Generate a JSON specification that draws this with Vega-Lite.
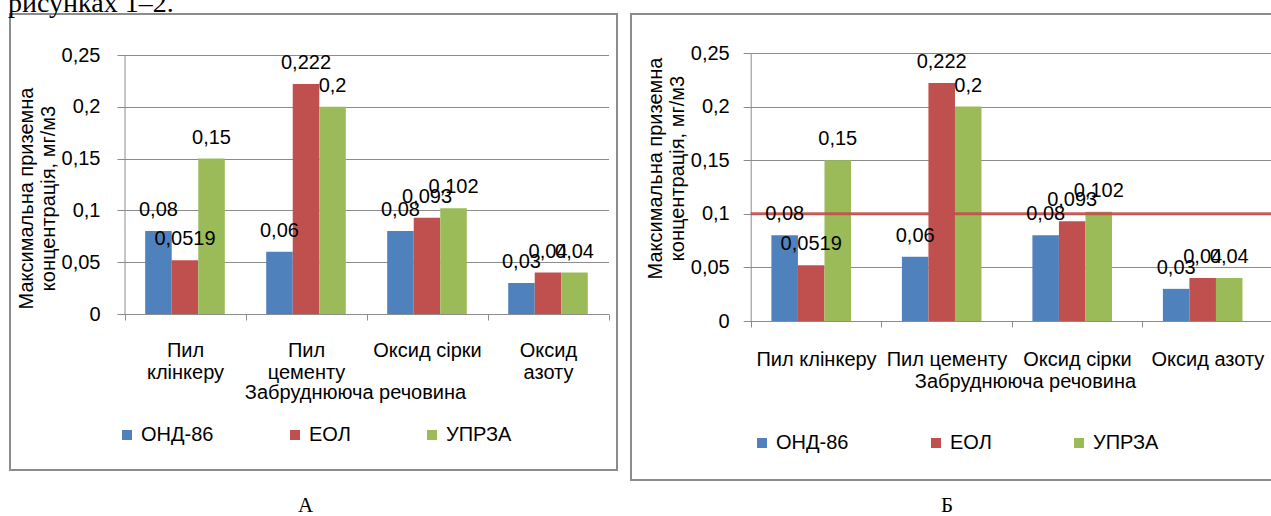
{
  "$schema": "https://vega.github.io/schema/vega-lite/v6.json",
  "background": "white",
  "padding": {"left": 8, "top": -10, "right": 0, "bottom": 0},
  "title": {
    "text": "рисунках 1–2.",
    "anchor": "start",
    "frame": "group",
    "font": "Liberation Serif",
    "fontSize": 28,
    "fontWeight": "normal",
    "color": "black",
    "baseline": "alphabetic",
    "offset": -27,
    "dx": -2
  },
  "config": {
    "font": "Liberation Sans",
    "locale": {"number": {"decimal": ",", "thousands": " ", "grouping": [3], "currency": ["", ""]}},
    "view": {"stroke": "#8c8c8c", "strokeWidth": 2},
    "axis": {
      "domainColor": "#8c8c8c",
      "tickColor": "#8c8c8c",
      "gridColor": "#8c8c8c",
      "labelFont": "Liberation Sans",
      "labelFontSize": 20,
      "labelColor": "black",
      "titleFont": "Liberation Sans",
      "titleFontSize": 20,
      "titleFontWeight": "normal",
      "titleColor": "black"
    },
    "legend": {"labelFont": "Liberation Sans", "labelFontSize": 20, "labelColor": "black"}
  },
  "resolve": {"scale": {"color": "independent"}, "legend": {"color": "independent"}},
  "datasets": {
    "conc": [
      {"substance": "Пил клінкеру", "method": "ОНД-86", "value": 0.08},
      {"substance": "Пил клінкеру", "method": "ЕОЛ", "value": 0.0519},
      {"substance": "Пил клінкеру", "method": "УПРЗА", "value": 0.15},
      {"substance": "Пил цементу", "method": "ОНД-86", "value": 0.06},
      {"substance": "Пил цементу", "method": "ЕОЛ", "value": 0.222},
      {"substance": "Пил цементу", "method": "УПРЗА", "value": 0.2},
      {"substance": "Оксид сірки", "method": "ОНД-86", "value": 0.08},
      {"substance": "Оксид сірки", "method": "ЕОЛ", "value": 0.093},
      {"substance": "Оксид сірки", "method": "УПРЗА", "value": 0.102},
      {"substance": "Оксид азоту", "method": "ОНД-86", "value": 0.03},
      {"substance": "Оксид азоту", "method": "ЕОЛ", "value": 0.04},
      {"substance": "Оксид азоту", "method": "УПРЗА", "value": 0.04}
    ],
    "limit": [{"level": 0.1}]
  },
  "spacing": 12,
  "hconcat": [
    {
      "width": 607,
      "height": 456,
      "title": {"text": "А", "orient": "bottom", "anchor": "start", "dx": 288, "font": "Liberation Serif", "fontSize": 21, "fontWeight": "normal", "color": "black", "baseline": "top", "offset": 25},
      "data": {"name": "conc"},
      "encoding": {
        "x": {
          "field": "substance", "type": "nominal", "sort": null,
          "scale": {"range": [114.5, 598.5], "paddingInner": 0, "paddingOuter": 0},
          "title": "Забруднююча речовина",
          "axis": {
            "offset": -156, "labelAngle": 0, "tickBand": "extent", "tickSize": 6,
            "labelPadding": 20, "labelLineHeight": 22, "labelLimit": 0,
            "labelExpr": "datum.value == 'Оксид сірки' ? datum.label : split(datum.label, ' ')",
            "titlePadding": 0, "titleX": 345, "titleAlign": "center"
          }
        },
        "xOffset": {"field": "method", "type": "nominal", "sort": ["ОНД-86", "ЕОЛ", "УПРЗА"], "scale": {"paddingInner": 0, "paddingOuter": 0.78}},
        "y": {
          "field": "value", "type": "quantitative",
          "scale": {"domain": [0, 0.25], "range": [300, 41], "nice": false},
          "title": ["Максимальна приземна", "концентрація, мг/м3"],
          "axis": {
            "offset": -114.5, "values": [0, 0.05, 0.1, 0.15, 0.2, 0.25], "format": "~g",
            "grid": true, "tickSize": 7.5, "labelPadding": 17,
            "titlePadding": 3, "titleLineHeight": 22, "titleY": 184
          }
        }
      },
      "layer": [
        {
          "mark": {"type": "bar"},
          "encoding": {
            "color": {
              "field": "method", "type": "nominal", "sort": ["ОНД-86", "ЕОЛ", "УПРЗА"],
              "scale": {"domain": ["ОНД-86", "ЕОЛ", "УПРЗА"], "range": ["#4f81bd", "#c0504d", "#9bbb59"]},
              "legend": {"orient": "none", "legendX": 107, "legendY": 411, "direction": "horizontal", "title": null, "symbolType": "square", "symbolSize": 100, "symbolStrokeWidth": 0, "symbolOpacity": 1, "columnPadding": 71, "labelOffset": 4}
            }
          }
        },
        {
          "mark": {"type": "text", "dy": -21, "baseline": "middle", "fontSize": 20, "color": "black"},
          "encoding": {"text": {"field": "value", "type": "quantitative", "format": ".4~f"}}
        }
      ]
    },
    {
      "width": 660,
      "height": 466,
      "title": {"text": "Б", "orient": "bottom", "anchor": "start", "dx": 310, "font": "Liberation Serif", "fontSize": 21, "fontWeight": "normal", "color": "black", "baseline": "top", "offset": 15},
      "layer": [
        {
          "data": {"name": "conc"},
          "mark": {"type": "bar"},
          "encoding": {
            "x": {
              "field": "substance", "type": "nominal", "sort": null,
              "scale": {"range": [119.7, 641.7], "paddingInner": 0, "paddingOuter": 0},
              "title": "Забруднююча речовина",
              "axis": {
                "offset": -159, "labelAngle": 0, "tickBand": "extent", "tickSize": 6,
                "labelPadding": 22, "labelLimit": 0,
                "titlePadding": 2, "titleX": 394, "titleAlign": "center"
              }
            },
            "xOffset": {"field": "method", "type": "nominal", "sort": ["ОНД-86", "ЕОЛ", "УПРЗА"], "scale": {"paddingInner": 0, "paddingOuter": 0.727}},
            "y": {
              "field": "value", "type": "quantitative",
              "scale": {"domain": [0, 0.25], "range": [307, 39], "nice": false},
              "title": ["Максимальна приземна", "концентрація, мг/м3"],
              "axis": {
                "offset": -119.7, "values": [0, 0.05, 0.1, 0.15, 0.2, 0.25], "format": "~g",
                "grid": true, "tickSize": 7.5, "labelPadding": 14,
                "titlePadding": 3, "titleLineHeight": 22, "titleY": 154
              }
            },
            "color": {
              "field": "method", "type": "nominal", "sort": ["ОНД-86", "ЕОЛ", "УПРЗА"],
              "scale": {"domain": ["ОНД-86", "ЕОЛ", "УПРЗА"], "range": ["#4f81bd", "#c0504d", "#9bbb59"]},
              "legend": {"orient": "none", "legendX": 121, "legendY": 419, "direction": "horizontal", "title": null, "symbolType": "square", "symbolSize": 100, "symbolStrokeWidth": 0, "symbolOpacity": 1, "columnPadding": 77, "labelOffset": 4}
            }
          }
        },
        {
          "data": {"name": "limit"},
          "mark": {"type": "rule", "color": "#c0504d", "strokeWidth": 3, "opacity": 0.9},
          "encoding": {
            "x": {"datum": 0, "type": "quantitative", "scale": {"domain": [0, 1], "range": [119.7, 660]}, "axis": null},
            "x2": {"datum": 1},
            "y": {"field": "level", "type": "quantitative", "title": ["Максимальна приземна", "концентрація, мг/м3"]}
          }
        },
        {
          "data": {"name": "conc"},
          "mark": {"type": "text", "dy": -21, "baseline": "middle", "fontSize": 20, "color": "black"},
          "encoding": {
            "x": {"field": "substance", "type": "nominal", "sort": null, "scale": {"range": [119.7, 641.7], "paddingInner": 0, "paddingOuter": 0}, "axis": null},
            "xOffset": {"field": "method", "type": "nominal", "sort": ["ОНД-86", "ЕОЛ", "УПРЗА"]},
            "y": {"field": "value", "type": "quantitative", "title": ["Максимальна приземна", "концентрація, мг/м3"]},
            "text": {"field": "value", "type": "quantitative", "format": ".4~f"}
          }
        }
      ],
      "resolve": {"scale": {"x": "independent"}}
    }
  ]
}
